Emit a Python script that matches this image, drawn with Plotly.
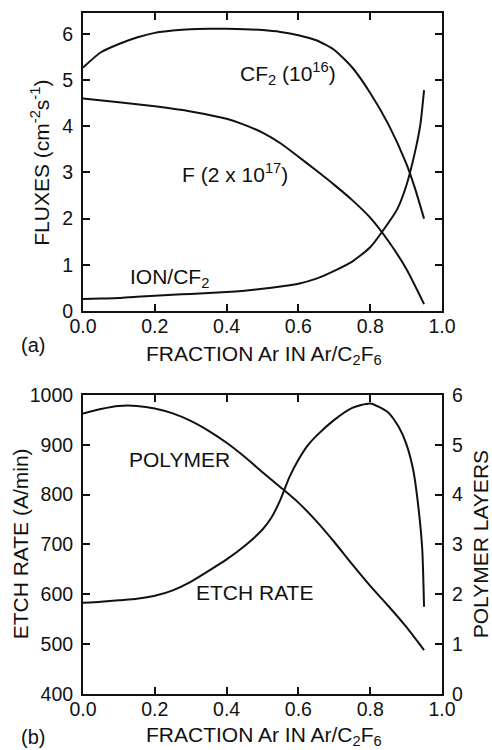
import plotly.graph_objects as go

# ---- (a) species fluxes vs. Ar fraction ----
cf2_x = [0.0, 0.05, 0.1, 0.15, 0.2, 0.25, 0.3, 0.35, 0.4, 0.45, 0.5, 0.55, 0.6,
         0.65, 0.7, 0.75, 0.8, 0.85, 0.9, 0.925, 0.95]
cf2_y = [5.27, 5.6, 5.78, 5.92, 6.02, 6.07, 6.1, 6.11, 6.11, 6.1, 6.08, 6.04, 5.97,
         5.86, 5.65, 5.27, 4.72, 4.05, 3.2, 2.65, 2.0]

f_x = [0.0, 0.1, 0.2, 0.3, 0.4, 0.45, 0.5, 0.55, 0.6, 0.65, 0.7, 0.75, 0.8,
       0.85, 0.9, 0.95]
f_y = [4.6, 4.52, 4.43, 4.32, 4.16, 4.03, 3.86, 3.63, 3.34, 3.04, 2.73, 2.4, 2.02,
       1.52, 0.92, 0.15]

ion_x = [0.0, 0.05, 0.1, 0.15, 0.2, 0.25, 0.3, 0.35, 0.4, 0.45, 0.5, 0.55, 0.6,
         0.65, 0.7, 0.75, 0.8, 0.85, 0.875, 0.9, 0.925, 0.94, 0.95]
ion_y = [0.26, 0.27, 0.28, 0.31, 0.33, 0.35, 0.37, 0.39, 0.41, 0.44, 0.48, 0.53, 0.59,
         0.7, 0.87, 1.07, 1.38, 1.9, 2.2, 2.7, 3.45, 4.05, 4.78]

# ---- (b) etch rate and polymer layers vs. Ar fraction ----
etch_x = [0.0, 0.05, 0.1, 0.15, 0.2, 0.25, 0.3, 0.35, 0.4, 0.45, 0.5, 0.525, 0.55,
          0.575, 0.6, 0.625, 0.65, 0.7, 0.75, 0.8, 0.85, 0.88, 0.9, 0.92, 0.935,
          0.945, 0.95]
etch_y = [583, 585, 588, 591, 597, 608, 625, 647, 670, 697, 730, 754, 790,
          835, 870, 898, 918, 950, 974, 983, 965, 935, 903, 849, 770,
          690, 575]

poly_x = [0.0, 0.05, 0.1, 0.15, 0.2, 0.25, 0.3, 0.35, 0.4, 0.45, 0.5, 0.55, 0.6,
          0.65, 0.7, 0.75, 0.8, 0.85, 0.9, 0.95]
poly_y = [5.63, 5.72, 5.78, 5.78, 5.73, 5.63, 5.48, 5.28, 5.04, 4.76, 4.45, 4.15, 3.84,
          3.47, 3.05, 2.6, 2.17, 1.77, 1.35, 0.88]

x_ticks = [0.0, 0.2, 0.4, 0.6, 0.8, 1.0]

FONT = "Liberation Sans, Arial, Helvetica, sans-serif"
BLACK = "#111111"
line = dict(color=BLACK, width=2, shape="spline", smoothing=0.6)

fig = go.Figure()
fig.add_trace(go.Scatter(x=cf2_x, y=cf2_y, mode="lines", line=line, xaxis="x", yaxis="y"))
fig.add_trace(go.Scatter(x=f_x, y=f_y, mode="lines", line=line, xaxis="x", yaxis="y"))
fig.add_trace(go.Scatter(x=ion_x, y=ion_y, mode="lines", line=line, xaxis="x", yaxis="y"))
fig.add_trace(go.Scatter(x=etch_x, y=etch_y, mode="lines", line=line, xaxis="x2", yaxis="y2"))
fig.add_trace(go.Scatter(x=poly_x, y=poly_y, mode="lines", line=line, xaxis="x2", yaxis="y3"))

axis_common = dict(
    showline=True, linecolor=BLACK, linewidth=2, ticks="inside", ticklen=7,
    tickwidth=1.5, tickcolor=BLACK, showgrid=False, zeroline=False,
    automargin=False, tickfont=dict(family=FONT, size=19.5, color=BLACK),
)

fig.update_layout(
    width=492, height=750,
    margin=dict(l=83, r=50, t=13, b=56, autoexpand=False),
    paper_bgcolor="white", plot_bgcolor="white",
    showlegend=False,
    font=dict(family=FONT, size=20, color=BLACK),
    xaxis=dict(axis_common, domain=[0, 1], anchor="y", range=[0, 1],
               tickvals=x_ticks, tickformat=".1f", mirror="ticks", ticklabelstandoff=-3),
    yaxis=dict(axis_common, domain=[0.5624, 1], anchor="x", range=[0, 6.45],
               dtick=1, mirror="ticks", ticklabelstandoff=4),
    xaxis2=dict(axis_common, domain=[0, 1], anchor="y2", range=[0, 1],
                tickvals=x_ticks, tickformat=".1f", mirror="ticks", ticklabelstandoff=-3),
    yaxis2=dict(axis_common, domain=[0, 0.4391], anchor="x2", range=[400, 1000],
                dtick=100, ticklabelstandoff=4),
    yaxis3=dict(axis_common, overlaying="y2", side="right", anchor="x2",
                range=[0, 6], dtick=1, ticklabelstandoff=4),
)

ann = []
def label(text, x, y, xref="x", yref="y", angle=0, size=21):
    ann.append(dict(text=text, x=x, y=y, xref=xref, yref=yref, showarrow=False,
                    textangle=angle, xanchor="center", yanchor="middle",
                    font=dict(family=FONT, size=size, color=BLACK)))

# curve labels
label("CF<sub>2</sub> (10<sup>16</sup>)", 0.571, 5.15)
label("F (2 x 10<sup>17</sup>)", 0.423, 2.98)
label("ION/CF<sub>2</sub>", 0.24, 0.72)
label("POLYMER", 0.27, 871, xref="x2", yref="y2")
label("ETCH RATE", 0.478, 604, xref="x2", yref="y2")

# axis titles
label("FLUXES (cm<sup>-2</sup>s<sup>-1</sup>)", -0.12, 0.78, xref="paper", yref="paper", angle=-90)
label("FRACTION Ar IN Ar/C<sub>2</sub>F<sub>6</sub>", 0.505, 0.4978, xref="paper", yref="paper")
label("ETCH RATE (A/min)", -0.175, 0.22, xref="paper", yref="paper", angle=-90)
label("POLYMER LAYERS", 1.106, 0.22, xref="paper", yref="paper", angle=-90)
label("FRACTION Ar IN Ar/C<sub>2</sub>F<sub>6</sub>", 0.505, -0.061, xref="paper", yref="paper")

# panel tags
label("(a)", -0.139, 0.5125, xref="paper", yref="paper", size=20)
label("(b)", -0.139, -0.063, xref="paper", yref="paper", size=20)

fig.update_layout(annotations=ann)
fig.write_html("out.html")
